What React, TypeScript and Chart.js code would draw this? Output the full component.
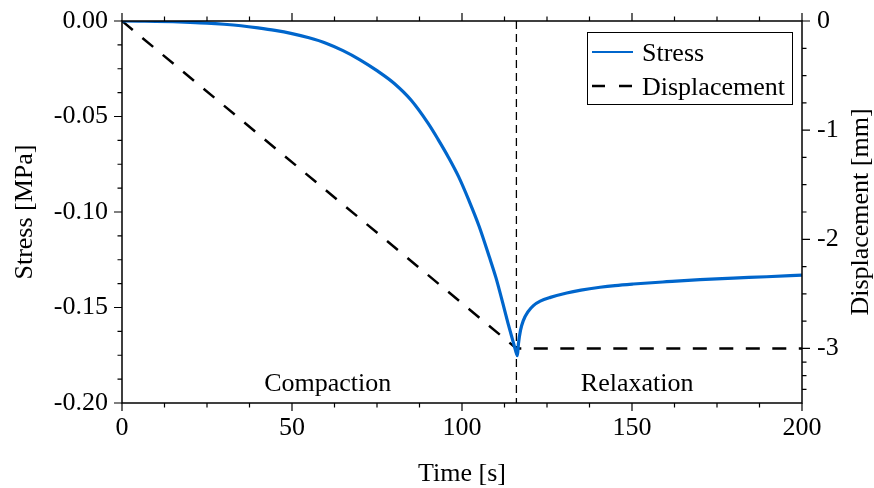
import React, { useEffect, useRef } from "react";
import { Chart, registerables } from "chart.js";

Chart.register(...registerables);

// ---- data ----
const stressTime = [
  0, 5, 10, 15, 20, 25, 30, 35, 40, 45, 50, 55, 60, 65, 70, 75, 80, 85, 90, 93, 96, 99, 102, 105, 108, 110, 112,
  113.5, 115, 116, 116.3,
  116.6, 117.2, 118, 119.5, 121, 123, 126, 130.8, 135, 140.6, 145, 150.4, 160.2, 170, 179.8, 189.6, 200,
];
const stressValues = [
  0, -0.0001, -0.0002, -0.0004, -0.0007, -0.0011, -0.0017, -0.0025, -0.0036, -0.0049, -0.0066, -0.0088, -0.0116,
  -0.0155, -0.0203, -0.026, -0.0326, -0.0414, -0.0535, -0.0621, -0.0713, -0.0815, -0.0938, -0.1073, -0.1233,
  -0.1345, -0.1477, -0.158, -0.1677, -0.174, -0.1752,
  -0.169, -0.162, -0.157, -0.152, -0.149, -0.1467, -0.1447, -0.1424, -0.1409, -0.1394, -0.1385, -0.1377,
  -0.1365, -0.1354, -0.1346, -0.1339, -0.133,
];
const dispTime = [0, 116, 200];
const dispValues = [0, -3, -3];
const dividerTime = [116, 116];
const dividerStress = [0, -0.2];

const xTicks = [0, 50, 100, 150, 200];
const yTicks = [0, -0.05, -0.1, -0.15, -0.2];
const yTickLabels = ["0.00", "-0.05", "-0.10", "-0.15", "-0.20"];
const y2Ticks = [0, -1, -2, -3];
const y2TickLabels = ["0", "-1", "-2", "-3"];

const seriesLabels = ["Stress", "Displacement"];
const regionLabels = ["Compaction", "Relaxation"];
const regionX = [60.5, 151.5];

const FONT = "'Times New Roman', 'Liberation Serif', serif";
const BLUE = "rgb(0,102,204)";

function minorValues(majors: number[], parts: number) {
  const out: number[] = [];
  for (let i = 0; i < majors.length - 1; i++) {
    const a = majors[i];
    const b = majors[i + 1];
    for (let k = 1; k < parts; k++) out.push(a + ((b - a) * k) / parts);
  }
  return out;
}

const framePlugin = {
  id: "frame",
  afterDraw(chart: any) {
    const ctx = chart.ctx as CanvasRenderingContext2D;
    const { left, right, top, bottom } = chart.chartArea;
    const xs = chart.scales.x;
    const ys = chart.scales.y;
    const y2s = chart.scales.y2;
    ctx.save();
    ctx.strokeStyle = "#000";
    ctx.lineWidth = 1.5;
    ctx.strokeRect(left, top, right - left, bottom - top);

    const major = 8;
    const minor = 4.5;
    ctx.lineWidth = 1.2;
    ctx.beginPath();
    const xMin = minorValues(xTicks, 4);
    xTicks.forEach((v) => {
      const p = xs.getPixelForValue(v);
      ctx.moveTo(p, bottom); ctx.lineTo(p, bottom + major);
      ctx.moveTo(p, top); ctx.lineTo(p, top - major);
    });
    xMin.forEach((v) => {
      const p = xs.getPixelForValue(v);
      ctx.moveTo(p, bottom); ctx.lineTo(p, bottom + minor);
      ctx.moveTo(p, top); ctx.lineTo(p, top - minor);
    });
    const yMin = minorValues(yTicks, 4);
    yTicks.forEach((v) => {
      const p = ys.getPixelForValue(v);
      ctx.moveTo(left, p); ctx.lineTo(left - major, p);
    });
    yMin.forEach((v) => {
      const p = ys.getPixelForValue(v);
      ctx.moveTo(left, p); ctx.lineTo(left - minor, p);
    });
    const y2Full = [...y2Ticks, -3.5];
    const y2Min = minorValues(y2Full, 4);
    y2Ticks.forEach((v) => {
      const p = y2s.getPixelForValue(v);
      ctx.moveTo(right, p); ctx.lineTo(right + major, p);
    });
    y2Min.forEach((v) => {
      const p = y2s.getPixelForValue(v);
      ctx.moveTo(right, p); ctx.lineTo(right + minor, p);
    });
    ctx.stroke();

    // axis titles
    ctx.fillStyle = "#000";
    ctx.font = `26px ${FONT}`;
    ctx.textAlign = "center";
    ctx.textBaseline = "alphabetic";
    ctx.fillText("Time [s]", (left + right) / 2, 481);
    ctx.save();
    ctx.translate(25, (top + bottom) / 2);
    ctx.rotate(-Math.PI / 2);
    ctx.textBaseline = "middle";
    ctx.fillText("Stress [MPa]", 0, 0);
    ctx.restore();
    ctx.save();
    ctx.translate(861, (top + bottom) / 2);
    ctx.rotate(-Math.PI / 2);
    ctx.textBaseline = "middle";
    ctx.fillText("Displacement [mm]", 0, 0);
    ctx.restore();

    // region labels
    ctx.textAlign = "center";
    ctx.textBaseline = "alphabetic";
    regionLabels.forEach((t, i) => {
      ctx.fillText(t, xs.getPixelForValue(regionX[i]), ys.getPixelForValue(-0.1936));
    });

    // legend
    const bx = 587.5, by = 32.5, bw = 205, bh = 72;
    ctx.fillStyle = "#fff";
    ctx.fillRect(bx, by, bw, bh);
    ctx.lineWidth = 1;
    ctx.strokeStyle = "#000";
    ctx.strokeRect(bx, by, bw, bh);
    const ds = chart.data.datasets;
    const rows = [52, 86];
    seriesLabels.forEach((lab, i) => {
      const d = ds[i];
      ctx.beginPath();
      ctx.strokeStyle = d.borderColor;
      ctx.lineWidth = i === 0 ? 2.2 : 2.5;
      ctx.setLineDash(i === 0 ? [] : [13, 14]);
      ctx.moveTo(592, rows[i]);
      ctx.lineTo(633, rows[i]);
      ctx.stroke();
      ctx.setLineDash([]);
      ctx.fillStyle = "#000";
      ctx.textAlign = "left";
      ctx.fillText(lab, 642, rows[i] + 9);
    });
    ctx.restore();
  },
};

export default function App() {
  const ref = useRef<HTMLCanvasElement | null>(null);
  useEffect(() => {
    document.body.style.margin = "0";
    const canvas = ref.current!;
    const tickFont = { family: FONT, size: 26 };
    const zeroPad = (s: any) => {
      s.paddingTop = 0;
      s.paddingBottom = 0;
      s.paddingLeft = 0;
      s.paddingRight = 0;
    };
    const chart = new Chart(canvas, {
      type: "line",
      data: {
        datasets: [
          {
            label: seriesLabels[0],
            data: stressTime.map((t, i) => ({ x: t, y: stressValues[i] })),
            borderColor: BLUE,
            borderWidth: 3.2,
            pointRadius: 0,
            yAxisID: "y",
            cubicInterpolationMode: "monotone",
          },
          {
            label: seriesLabels[1],
            data: dispTime.map((t, i) => ({ x: t, y: dispValues[i] })),
            borderColor: "#000",
            borderWidth: 2.5,
            borderDash: [14, 12.5],
            pointRadius: 0,
            yAxisID: "y2",
          },
          {
            label: "divider",
            data: dividerTime.map((t, i) => ({ x: t, y: dividerStress[i] })),
            borderColor: "#000",
            borderWidth: 1.3,
            borderDash: [8, 5],
            pointRadius: 0,
            yAxisID: "y",
          },
        ],
      },
      options: {
        animation: false,
        responsive: false,
        layout: { padding: { top: 21, left: 0, right: 0, bottom: 0 } },
        plugins: { legend: { display: false }, tooltip: { enabled: false } },
        scales: {
          x: {
            type: "linear",
            min: 0,
            max: 200,
            afterBuildTicks: (s: any) => { s.ticks = xTicks.map((v) => ({ value: v })); },
            afterFit: (s: any) => { s.height = 85; zeroPad(s); },
            ticks: { font: tickFont, color: "#000", padding: 10, maxRotation: 0, autoSkip: false },
            grid: { display: false, drawTicks: false },
            border: { display: false },
          },
          y: {
            type: "linear",
            position: "left",
            min: -0.2,
            max: 0,
            afterBuildTicks: (s: any) => { s.ticks = yTicks.map((v) => ({ value: v })); },
            afterFit: (s: any) => { s.width = 122; zeroPad(s); },
            ticks: {
              font: tickFont,
              color: "#000",
              padding: 14,
              autoSkip: false,
              callback: (v: any) => yTickLabels[yTicks.findIndex((t) => Math.abs(t - v) < 1e-9)] ?? "",
            },
            grid: { display: false, drawTicks: false },
            border: { display: false },
          },
          y2: {
            type: "linear",
            position: "right",
            min: -3.5,
            max: 0,
            afterBuildTicks: (s: any) => { s.ticks = y2Ticks.map((v) => ({ value: v })); },
            afterFit: (s: any) => { s.width = 72; zeroPad(s); },
            ticks: {
              font: tickFont,
              color: "#000",
              padding: 15,
              autoSkip: false,
              callback: (v: any) => y2TickLabels[y2Ticks.findIndex((t) => Math.abs(t - v) < 1e-9)] ?? "",
            },
            grid: { display: false, drawTicks: false },
            border: { display: false },
          },
        },
      },
      plugins: [framePlugin],
    } as any);
    return () => chart.destroy();
  }, []);
  return (
    <div style={{ width: 874, height: 488 }}>
      <canvas ref={ref} width={874} height={488} style={{ display: "block", width: 874, height: 488 }} />
    </div>
  );
}
